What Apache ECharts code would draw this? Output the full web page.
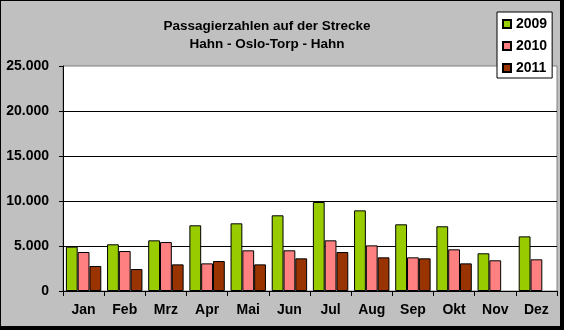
<!DOCTYPE html>
<html>
<head>
<meta charset="utf-8">
<script src="https://cdn.jsdelivr.net/npm/echarts@6/dist/echarts.min.js"></script>
<style>
  html, body { margin: 0; padding: 0; background: #000; }
  #chart { width: 564px; height: 330px; }
</style>
</head>
<body>
<div id="chart"></div>
<script>
// Monthly passenger counts on the route Hahn - Oslo-Torp - Hahn
const months = ['Jan', 'Feb', 'Mrz', 'Apr', 'Mai', 'Jun', 'Jul', 'Aug', 'Sep', 'Okt', 'Nov', 'Dez'];
const pax2009 = [4930, 5190, 5630, 7300, 7520, 8410, 9890, 8960, 7410, 7190, 4190, 6070];
const pax2010 = [4330, 4440, 5440, 3070, 4520, 4520, 5630, 5070, 3740, 4630, 3410, 3520];
const pax2011 = [2780, 2440, 2960, 3330, 2960, 3630, 4330, 3740, 3630, 3070, null, null];
const yearNames = ['2009', '2010', '2011'];
const yTicks = [0, 5000, 10000, 15000, 20000, 25000];

const FONT = '"Liberation Sans", Arial, sans-serif';

// German thousands separator: 25.000
function fmt(v) {
  return v === 0 ? '0' : String(v).replace(/\B(?=(\d{3})+(?!\d))/g, '.');
}

const chart = echarts.init(document.getElementById('chart'), null, { renderer: 'canvas' });

const barStyle = (color) => ({ color: color, borderColor: '#000', borderWidth: 1 });

chart.setOption({
  animation: false,
  backgroundColor: '#000',
  textStyle: { fontFamily: FONT },
  graphic: [
    { type: 'rect', z: -10, silent: true,
      shape: { x: 1, y: 1, width: 559, height: 325 },
      style: { fill: '#C0C0C0' } }
  ],
  title: {
    text: 'Passagierzahlen auf der Strecke\nHahn - Oslo-Torp - Hahn',
    left: 262,
    top: 12,
    textAlign: 'center',
    textStyle: { fontFamily: FONT, fontSize: 13.5, fontWeight: 'bold', color: '#000', lineHeight: 18 }
  },
  legend: {
    data: yearNames,
    orient: 'vertical',
    left: 497,
    top: 12,
    padding: [5, 5, 3, 5],
    itemGap: 8,
    itemWidth: 8,
    itemHeight: 8,
    itemTextGap: 4,
    icon: 'rect',
    backgroundColor: '#fff',
    borderColor: '#000',
    borderWidth: 1,
    borderRadius: 0,
    textStyle: { fontFamily: FONT, fontSize: 14, fontWeight: 'bold', color: '#000', lineHeight: 14 }
  },
  grid: {
    left: 63, right: 7, top: 66, bottom: 39,
    show: true,
    backgroundColor: '#fff',
    borderColor: '#808080',
    borderWidth: 1,
    containLabel: false
  },
  xAxis: {
    type: 'category',
    data: months,
    boundaryGap: true,
    axisLine: { lineStyle: { color: '#000', width: 1 } },
    axisTick: { show: true, length: 5, lineStyle: { color: '#000' } },
    axisLabel: { fontFamily: FONT, fontSize: 14, fontWeight: 'bold', color: '#000', margin: 12 }
  },
  yAxis: {
    type: 'value',
    min: yTicks[0],
    max: yTicks[yTicks.length - 1],
    interval: yTicks[1] - yTicks[0],
    axisLine: { show: true, lineStyle: { color: '#000', width: 1 } },
    axisTick: { show: true, length: 4, lineStyle: { color: '#000' } },
    axisLabel: { fontFamily: FONT, fontSize: 14, fontWeight: 'bold', color: '#000', margin: 14,
      formatter: fmt },
    splitLine: { show: true, showMaxLine: false, lineStyle: { color: '#000', width: 1 } }
  },
  series: [
    { name: yearNames[0], type: 'bar', data: pax2009, barGap: '0%', barCategoryGap: '14%',
      itemStyle: barStyle('#99CC00') },
    { name: yearNames[1], type: 'bar', data: pax2010, barGap: '0%', barCategoryGap: '14%',
      itemStyle: barStyle('#FF8080') },
    { name: yearNames[2], type: 'bar', data: pax2011, barGap: '0%', barCategoryGap: '14%',
      itemStyle: barStyle('#993300') }
  ]
});
</script>
</body>
</html>
